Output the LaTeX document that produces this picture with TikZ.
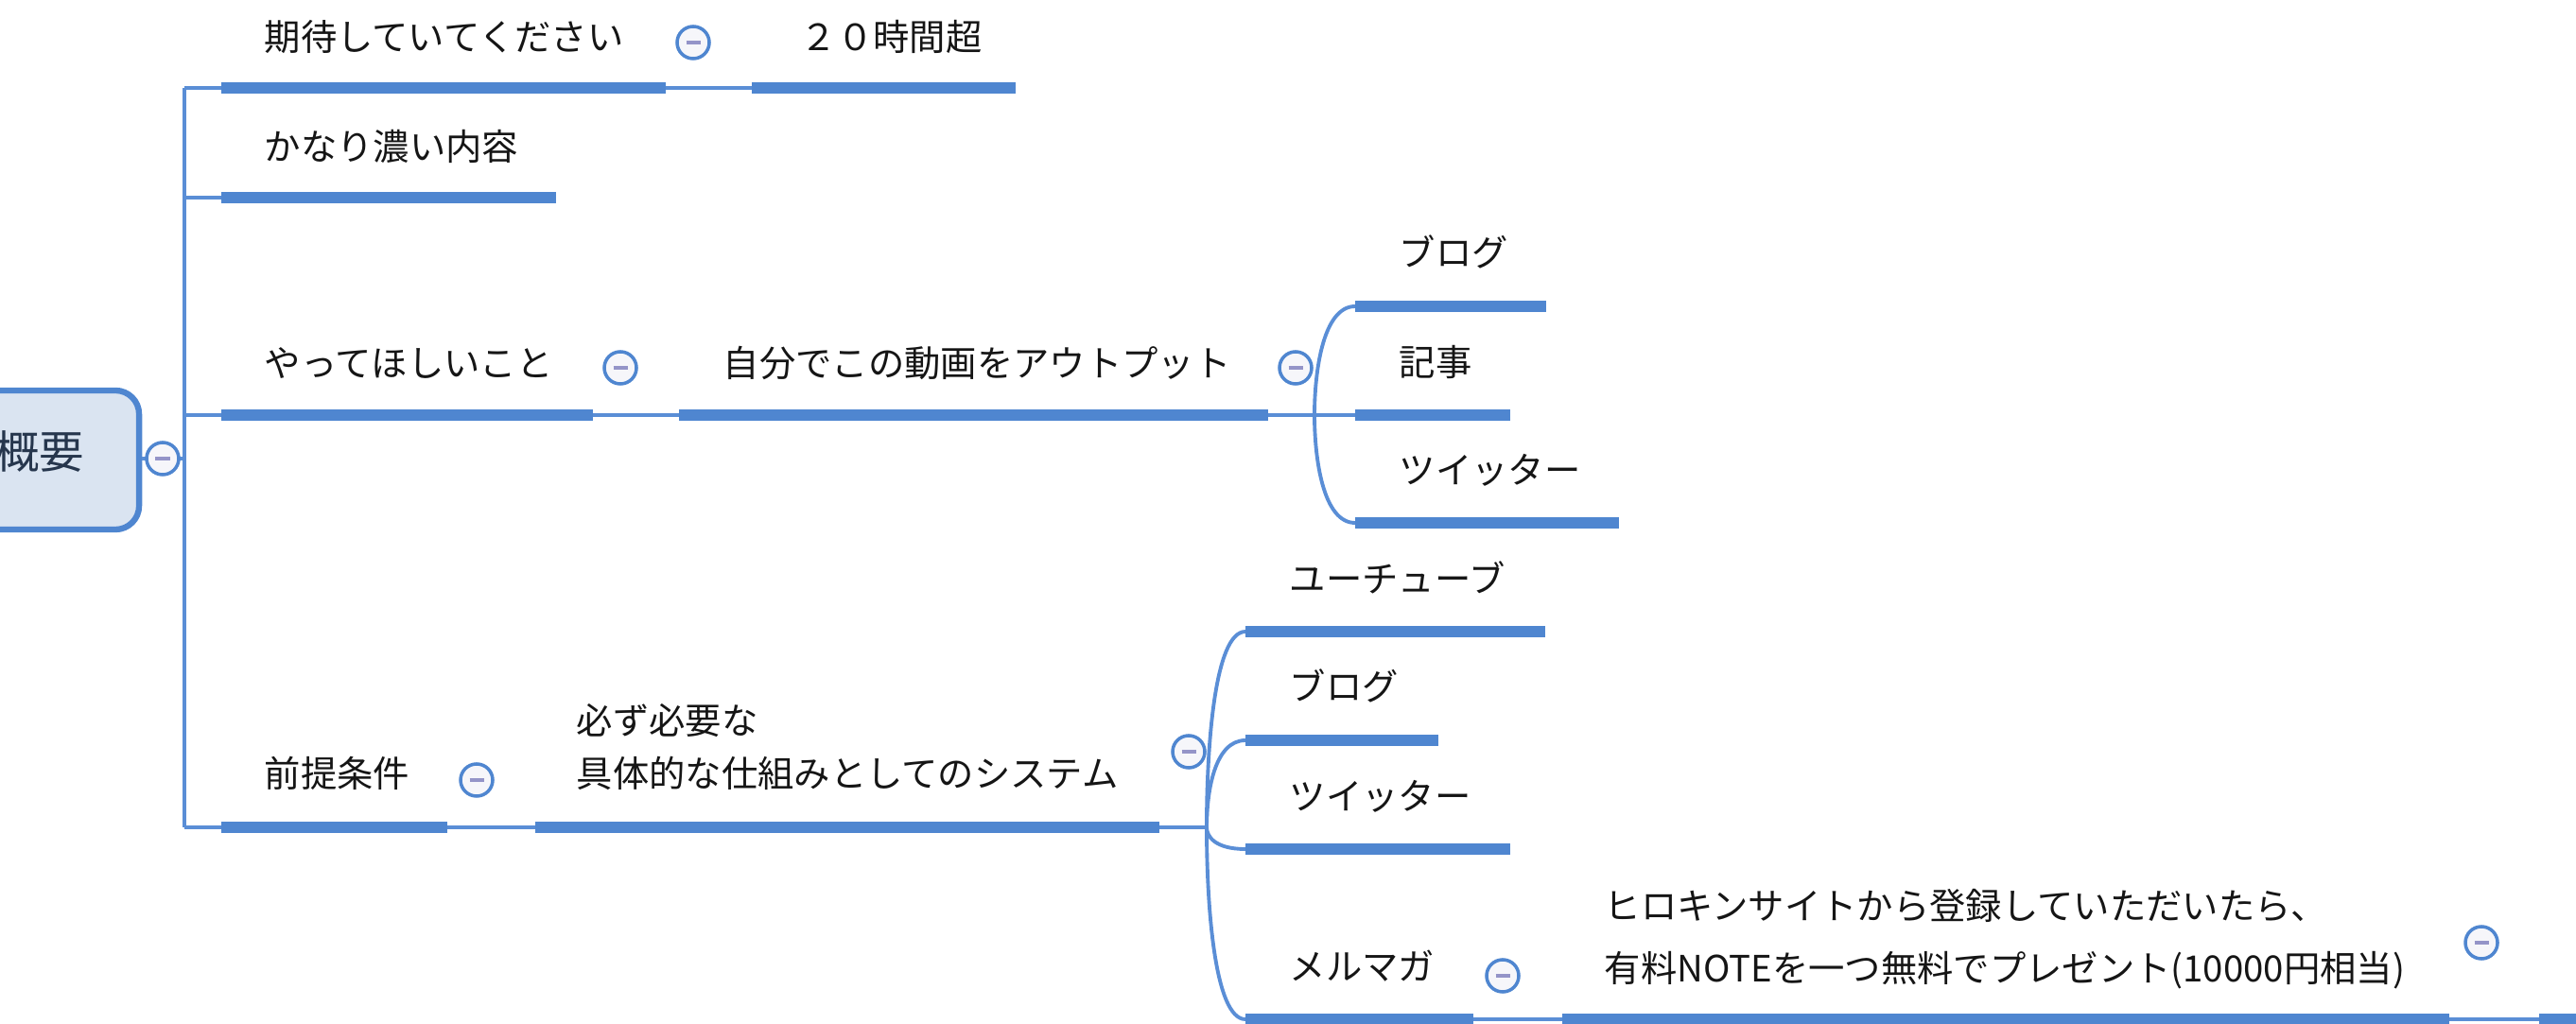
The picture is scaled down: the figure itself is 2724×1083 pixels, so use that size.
\documentclass[tikz,border=0pt]{standalone}
\usepackage{fontspec}
\setmainfont{Noto Sans CJK JP}
\definecolor{barblue}{HTML}{4F86D0}
\definecolor{thinblue}{HTML}{5A8ED6}
\definecolor{rootfill}{HTML}{DAE4F1}
\definecolor{minusc}{HTML}{9494C8}
\definecolor{txt}{HTML}{151515}
\definecolor{roottxt}{HTML}{26364D}
\definecolor{togfill}{HTML}{F6F6FA}
\begin{document}
\begin{tikzpicture}[x=0.01cm,y=-0.01cm,
  bar/.style={draw=barblue,line width=3.3pt},
  conn/.style={draw=thinblue,line width=1.1pt},
  lbl/.style={anchor=base west,inner sep=0pt,text=txt,font=\fontsize{10.9pt}{13pt}\selectfont},
  tog/.style={circle,draw=barblue,fill=togfill,line width=1pt,minimum size=0.34cm,inner sep=0pt,
    path picture={\draw[minusc,line width=0.9pt]
      ([xshift=-0.075cm]path picture bounding box.center) -- ([xshift=0.075cm]path picture bounding box.center);}},
  rootbox/.style={rectangle,rounded corners=0.25cm,draw=barblue,fill=rootfill,line width=1.8pt,
    minimum width=2.97cm,minimum height=1.47cm,inner sep=0pt}
]
\clip (0,0) rectangle (2724,1083);

% ---------- coordinates ----------
\coordinate (trk1) at (195,93);
\coordinate (trk4) at (195,875);
% level 1 bars
\coordinate (t1a) at (234,93);   \coordinate (t1b) at (704,93);
\coordinate (t2a) at (234,209);  \coordinate (t2b) at (588,209);
\coordinate (t3a) at (234,439);  \coordinate (t3b) at (627,439);
\coordinate (t4a) at (234,875);  \coordinate (t4b) at (473,875);
% level 2
\coordinate (s1a) at (795,93);   \coordinate (s1b) at (1074,93);
\coordinate (s3a) at (718,439);  \coordinate (s3b) at (1341,439);
\coordinate (s4a) at (566,875);  \coordinate (s4b) at (1226,875);
% junctions
\coordinate (j1) at (1390,439);
\coordinate (j2) at (1276,875);
% level 3 (output)
\coordinate (c1a) at (1433,324); \coordinate (c1b) at (1635,324);
\coordinate (c2a) at (1433,439); \coordinate (c2b) at (1597,439);
\coordinate (c3a) at (1433,553); \coordinate (c3b) at (1712,553);
% level 3 (system)
\coordinate (d1a) at (1317,668);  \coordinate (d1b) at (1634,668);
\coordinate (d2a) at (1317,783);  \coordinate (d2b) at (1521,783);
\coordinate (d3a) at (1317,898);  \coordinate (d3b) at (1597,898);
\coordinate (d4a) at (1317,1078); \coordinate (d4b) at (1558,1078);
% level 4/5
\coordinate (m1a) at (1652,1078); \coordinate (m1b) at (2590,1078);
\coordinate (m2a) at (2685,1078); \coordinate (m2b) at (2780,1078);

% ---------- root ----------
\node[rootbox] (root) at (-1.5,486.5) {};
\node[inner sep=0pt,text=roottxt,font=\fontsize{13.5pt}{15pt}\selectfont] (roottext) at (41.5,478) {概要};

% ---------- thin connectors ----------
\draw[conn] (root.east |- 0,485) -- (trk1 |- 0,485);
\draw[conn] (trk1) -- (trk4);
\draw[conn] (trk1) -- (t1a);
\draw[conn] (t2a -| trk1) -- (t2a);
\draw[conn] (t3a -| trk1) -- (t3a);
\draw[conn] (trk4) -- (t4a);
\draw[conn] (t1b) -- (s1a);
\draw[conn] (t3b) -- (s3a);
\draw[conn] (t4b) -- (s4a);
\draw[conn] (s3b) -- (c2a);
\draw[conn] (j1) .. controls +(0,-46) and +(-34,0) .. (c1a);
\draw[conn] (j1) .. controls +(0,46) and +(-34,0) .. (c3a);
\draw[conn] (s4b) -- (j2);
\draw[conn] (j2) .. controls +(0,-83) and +(-33,0) .. (d1a);
\draw[conn] (j2) .. controls +(0,-37) and +(-33,0) .. (d2a);
\draw[conn] (j2) .. controls +(0,9) and +(-33,0) .. (d3a);
\draw[conn] (j2) .. controls +(0,81) and +(-33,0) .. (d4a);
\draw[conn] (d4b) -- (m1a);
\draw[conn] (m1b) -- (m2a);

% ---------- bars ----------
\draw[bar] (t1a) -- (t1b);
\draw[bar] (t2a) -- (t2b);
\draw[bar] (t3a) -- (t3b);
\draw[bar] (t4a) -- (t4b);
\draw[bar] (s1a) -- (s1b);
\draw[bar] (s3a) -- (s3b);
\draw[bar] (s4a) -- (s4b);
\draw[bar] (c1a) -- (c1b);
\draw[bar] (c2a) -- (c2b);
\draw[bar] (c3a) -- (c3b);
\draw[bar] (d1a) -- (d1b);
\draw[bar] (d2a) -- (d2b);
\draw[bar] (d3a) -- (d3b);
\draw[bar] (d4a) -- (d4b);
\draw[bar] (m1a) -- (m1b);
\draw[bar] (m2a) -- (m2b);

% ---------- labels ----------
\node[lbl] (n1)  at (279,54)   {期待していてください};
\node[lbl] (n2)  at (846,54)   {２０時間超};
\node[lbl] (n3)  at (279,170)  {かなり濃い内容};
\node[lbl] (n4)  at (279,399)  {やってほしいこと};
\node[lbl] (n5)  at (764,399)  {自分でこの動画をアウトプット};
\node[lbl] (n6)  at (1479,282) {ブログ};
\node[lbl] (n7)  at (1479,398) {記事};
\node[lbl] (n8)  at (1479,512) {ツイッター};
\node[lbl] (n9)  at (279,833)  {前提条件};
\node[lbl] (n10) at (609,777)  {必ず必要な};
\node[lbl] (n11) at (609,833)  {具体的な仕組みとしてのシステム};
\node[lbl] (n12) at (1363,627) {ユーチューブ};
\node[lbl] (n13) at (1363,741) {ブログ};
\node[lbl] (n14) at (1363,857) {ツイッター};
\node[lbl] (n15) at (1363,1037) {メルマガ};
\node[lbl] (n16) at (1696,972) {ヒロキンサイトから登録していただいたら、};
\node[lbl] (n17) at (1696,1038) {有料NOTEを一つ無料でプレゼント(10000円相当)};

% ---------- toggles ----------
\node[tog] (g0) at (172,485) {};
\node[tog] (g1) at (733,45) {};
\node[tog] (g3) at (656,389) {};
\node[tog] (g5) at (1370,389) {};
\node[tog] (g4) at (504,825) {};
\node[tog] (g11) at (1257,795) {};
\node[tog] (g15) at (1589,1032) {};
\node[tog] (g17) at (2624,997) {};
\end{tikzpicture}
\end{document}
